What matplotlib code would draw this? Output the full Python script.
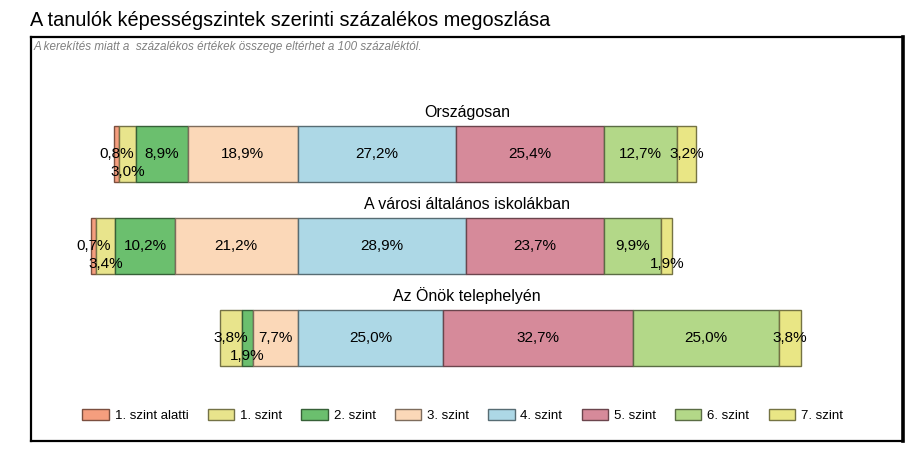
import matplotlib
matplotlib.use('Agg')

import matplotlib.pyplot as plt
from matplotlib.colors import to_rgb

plt.rcParams['font.family'] = ['Liberation Sans', 'DejaVu Sans']

# data
groups = ['Országosan', 'A városi általános iskolákban', 'Az Önök telephelyén']
levels = ['1. szint alatti', '1. szint', '2. szint', '3. szint',
          '4. szint', '5. szint', '6. szint', '7. szint']
values = [
    [0.8, 3.0, 8.9, 18.9, 27.2, 25.4, 12.7, 3.2],
    [0.7, 3.4, 10.2, 21.2, 28.9, 23.7, 9.9, 1.9],
    [0.0, 3.8, 1.9, 7.7, 25.0, 32.7, 25.0, 3.8],
]
colors = ['#F59E7E', '#E8E48C', '#6BBF6E', '#FBD8B8',
          '#ADD8E6', '#D68A9A', '#B3D888', '#E9E685']
# labels pushed below the bar centre so they don't overlap
lowered = {(0, 1), (1, 1), (1, 7), (2, 2)}
# levels 1. szint alatti .. 3. szint go left of zero
n_left = 4


def darker(c, f=0.5):
    r, g, b = to_rgb(c)
    return (r * f, g * f, b * f)


fig = plt.figure(figsize=(9.23, 4.53), dpi=100)
ax = fig.add_axes([31 / 923, 1 - 441 / 453, 872 / 923, 404 / 453])

bar_h = 0.61
for i, row in enumerate(values):
    left = -sum(row[:n_left])
    for j, v in enumerate(row):
        if v > 0:
            ax.barh(i, v, left=left, height=bar_h, color=colors[j],
                    edgecolor=darker(colors[j]), linewidth=1,
                    label=levels[j] if i == 0 else None)
            y = i + 0.2 if (i, j) in lowered else i
            ax.text(left + v / 2, y, ('%.1f%%' % v).replace('.', ','),
                    ha='center', va='center', fontsize=11)
        elif i == 0:
            ax.barh(i, 0, color=colors[j], label=levels[j])
        left += v
    ax.text(0.5, i - bar_h / 2 - 0.06, groups[i], ha='center',
            va='bottom', fontsize=11.5, transform=ax.get_yaxis_transform())

ax.set_xlim(-45.9, 104.1)
ax.set_ylim(3.12, -1.27)
ax.set_xticks([])
ax.set_yticks([])
for s in ax.spines.values():
    s.set_linewidth(1.6)
ax.spines['right'].set_linewidth(2.6)

ax.text(0.003, 0.99, 'A kerekítés miatt a  százalékos értékek összege '
        'eltérhet a 100 százaléktól.', transform=ax.transAxes,
        ha='left', va='top', fontsize=8.4, style='italic', color='#808080')

leg = ax.legend(loc='center', bbox_to_anchor=(0.495, 0.064), ncol=8,
                frameon=False, fontsize=9.5, handlelength=2.0,
                handleheight=0.9, columnspacing=1.45, handletextpad=0.45)
for h, c in zip(leg.legend_handles, colors):
    h.set_edgecolor(darker(c))
    h.set_linewidth(1)

fig.text(30 / 923, 1 - 20 / 453, 'A tanulók képességszintek szerinti '
         'százalékos megoszlása', ha='left', va='center', fontsize=14.3)

fig.savefig('out.png', dpi=100)
